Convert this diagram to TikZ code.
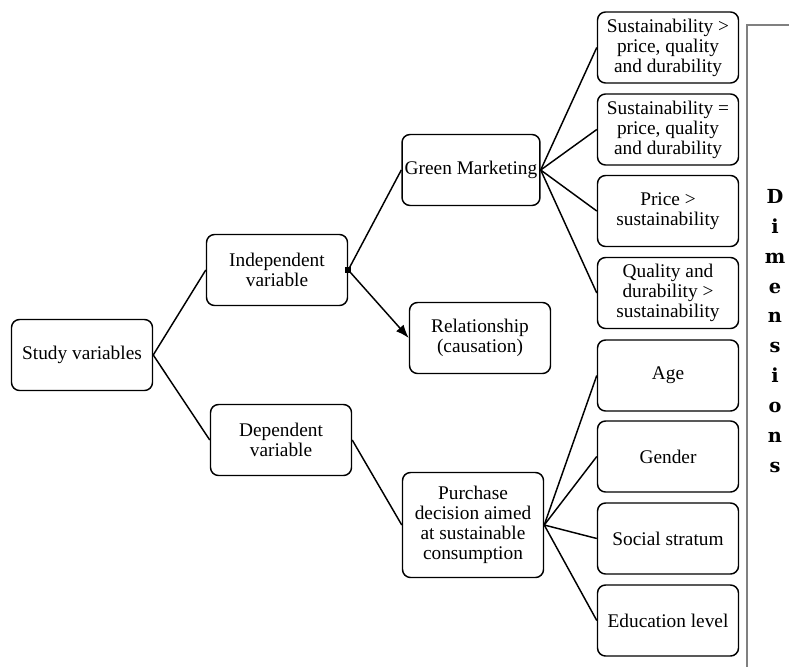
\documentclass[tikz,border=0pt]{standalone}
\usepackage{fontspec}
\setmainfont{Liberation Serif}
\newfontfamily\dimfont{DejaVu Serif}
\usetikzlibrary{arrows.meta}
\begin{document}
\begin{tikzpicture}[x=0.75pt,y=-0.75pt,
		box/.style={draw,line width=1.1pt,rounded corners=6pt,align=center,minimum width=105.75pt,minimum height=53.25pt,inner sep=2pt,font=\fontsize{14.5}{15}\selectfont},
		link/.style={line width=1.1pt}]
		\useasboundingbox (0,0) rectangle (789,667);
		\node (study) at (82,355) [box] {Study variables};
		\node (indep) at (277,270) [box] {Independent\\variable};
		\node (dep) at (281,440) [box] {Dependent\\variable};
		\node (green) at (471,170) [box,minimum width=103pt] {Green Marketing};
		\node (rel) at (480,338) [box] {Relationship\\(causation)};
		\node (purch) at (473,525) [box,minimum height=78.75pt] {Purchase\\decision aimed\\at sustainable\\consumption};
		\node (dimA) at (668,47.5) [box] {Sustainability >\\price, quality\\and durability};
		\node (dimB) at (668,129.5) [box] {Sustainability =\\price, quality\\and durability};
		\node (dimC) at (668,211) [box] {Price >\\sustainability};
		\node (dimD) at (668,293) [box] {Quality and\\durability >\\sustainability};
		\node (age) at (668,375.5) [box] {Age};
		\node (gender) at (668,456.5) [box] {Gender};
		\node (stratum) at (668,538.5) [box] {Social stratum};
		\node (edu) at (668,620.5) [box] {Education level};
		% connectors
		\draw[link] (study.east) -- (indep.west);
		\draw[link] (study.east) -- (dep.west);
		\draw[link] (indep.east) -- (green.west);
		\draw[link,-{Latex[length=10pt,width=7.5pt]}] (indep.east) -- (rel.west);
		\node (joint) at (indep.east) [fill,minimum size=4.5pt,inner sep=0pt] {};
		\draw[link] (dep.east) -- (purch.west);
		\draw[link] (green.east) -- (dimA.west);
		\draw[link] (green.east) -- (dimB.west);
		\draw[link] (green.east) -- (dimC.west);
		\draw[link] (green.east) -- (dimD.west);
		\draw[link] (purch.east) -- (age.west);
		\draw[link] (purch.east) -- (gender.west);
		\draw[link] (purch.east) -- (stratum.west);
		\draw[link] (purch.east) -- (edu.west);
		% dimensions bracket
		\coordinate (bracketA) at (789,25);
		\coordinate (bracketB) at (747,25);
		\coordinate (bracketC) at (747,667);
		\draw[line width=1.1pt,gray] (bracketA) -- (bracketB) -- (bracketC);
		\node (dimlabel) at (775,331) [align=center,inner sep=0pt,font=\dimfont\bfseries\fontsize{14.5}{22.4}\selectfont] {D\\i\\m\\e\\n\\s\\i\\o\\n\\s};
\end{tikzpicture}
\end{document}
